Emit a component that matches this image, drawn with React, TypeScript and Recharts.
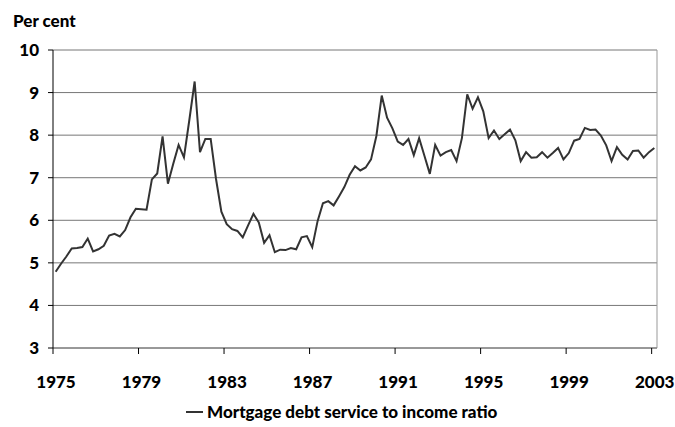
import { LineChart, Line, XAxis, YAxis, CartesianGrid, ReferenceLine } from 'recharts'

// quarterly series, first point is 1975 Q1
const START_YEAR = 1975
const YEAR_TICKS = [1975, 1979, 1983, 1987, 1991, 1995, 1999, 2003]
const PCT_TICKS = [3, 4, 5, 6, 7, 8, 9, 10]

const debtServiceRatio = [
  4.79, 4.98, 5.15, 5.34, 5.35, 5.37, 5.57, 5.27, 5.32, 5.4, 5.64, 5.68,
  5.62, 5.77, 6.07, 6.27, 6.26, 6.25, 6.96, 7.1, 7.97, 6.86, 7.33, 7.77,
  7.48, 8.35, 9.26, 7.6, 7.91, 7.91, 6.97, 6.2, 5.91, 5.79, 5.75, 5.6,
  5.88, 6.15, 5.95, 5.47, 5.65, 5.25, 5.31, 5.3, 5.35, 5.32, 5.6, 5.63,
  5.37, 5.98, 6.4, 6.45, 6.35, 6.56, 6.78, 7.07, 7.27, 7.17, 7.24, 7.43,
  7.98, 8.93, 8.41, 8.16, 7.85, 7.77, 7.91, 7.53, 7.93, 7.51, 7.09, 7.77,
  7.52, 7.6, 7.65, 7.39, 7.93, 8.96, 8.62, 8.89, 8.56, 7.93, 8.11, 7.91,
  8.02, 8.13, 7.88, 7.39, 7.6, 7.47, 7.48, 7.6, 7.47, 7.58, 7.7, 7.43,
  7.58, 7.87, 7.91, 8.17, 8.12, 8.13, 7.99, 7.76, 7.39, 7.72, 7.54, 7.43,
  7.63, 7.64, 7.47, 7.6, 7.7,
]

const data = debtServiceRatio.map((v, i) => ({
  t: START_YEAR + (i + 0.5) / 4,
  ratio: v,
}))

const FONT = 'Lato, "DejaVu Sans", sans-serif'
const WEIGHT = 900
const tickStyle = { fill: '#000', fontSize: 17, fontWeight: WEIGHT, fontFamily: FONT }

export default function App() {
  return (
    <div style={{ position: 'absolute', left: 0, top: 0, width: 675, height: 427, background: '#fff' }}>
      <div
        style={{
          position: 'absolute',
          left: 13,
          top: 12,
          fontFamily: FONT,
          fontWeight: WEIGHT,
          fontSize: 17,
          lineHeight: '17px',
          color: '#000',
        }}
      >
        Per cent
      </div>

      <LineChart
        width={675}
        height={427}
        data={data}
        margin={{ top: 50, right: 18, bottom: 29, left: 0 }}
      >
        <CartesianGrid horizontal vertical={false} stroke="#777" strokeWidth={1} />
        <XAxis
          dataKey="t"
          type="number"
          domain={[1975, 2003.25]}
          ticks={YEAR_TICKS}
          interval={0}
          height={50}
          tickSize={6}
          tickMargin={22}
          axisLine={{ stroke: '#777' }}
          tickLine={{ stroke: '#000' }}
          tick={{ ...tickStyle, dx: 3 }}
        />
        <YAxis
          type="number"
          domain={[3, 10]}
          ticks={PCT_TICKS}
          interval={0}
          width={53}
          tickSize={5}
          tickMargin={9}
          axisLine={{ stroke: '#000' }}
          tickLine={{ stroke: '#000' }}
          tick={tickStyle}
        />
        <ReferenceLine x={2003.25} stroke="#999" />
        <Line
          type="linear"
          dataKey="ratio"
          stroke="#333"
          strokeWidth={2}
          dot={false}
          isAnimationActive={false}
        />
      </LineChart>

      {/* Legend */}
      <div
        style={{
          position: 'absolute',
          left: 186,
          top: 401,
          display: 'flex',
          alignItems: 'center',
          fontFamily: FONT,
          fontWeight: WEIGHT,
          fontSize: 17,
          color: '#000',
        }}
      >
        <span style={{ display: 'inline-block', width: 17, height: 2, background: '#333', marginRight: 4 }} />
        <span>Mortgage debt service to income ratio</span>
      </div>
    </div>
  )
}
